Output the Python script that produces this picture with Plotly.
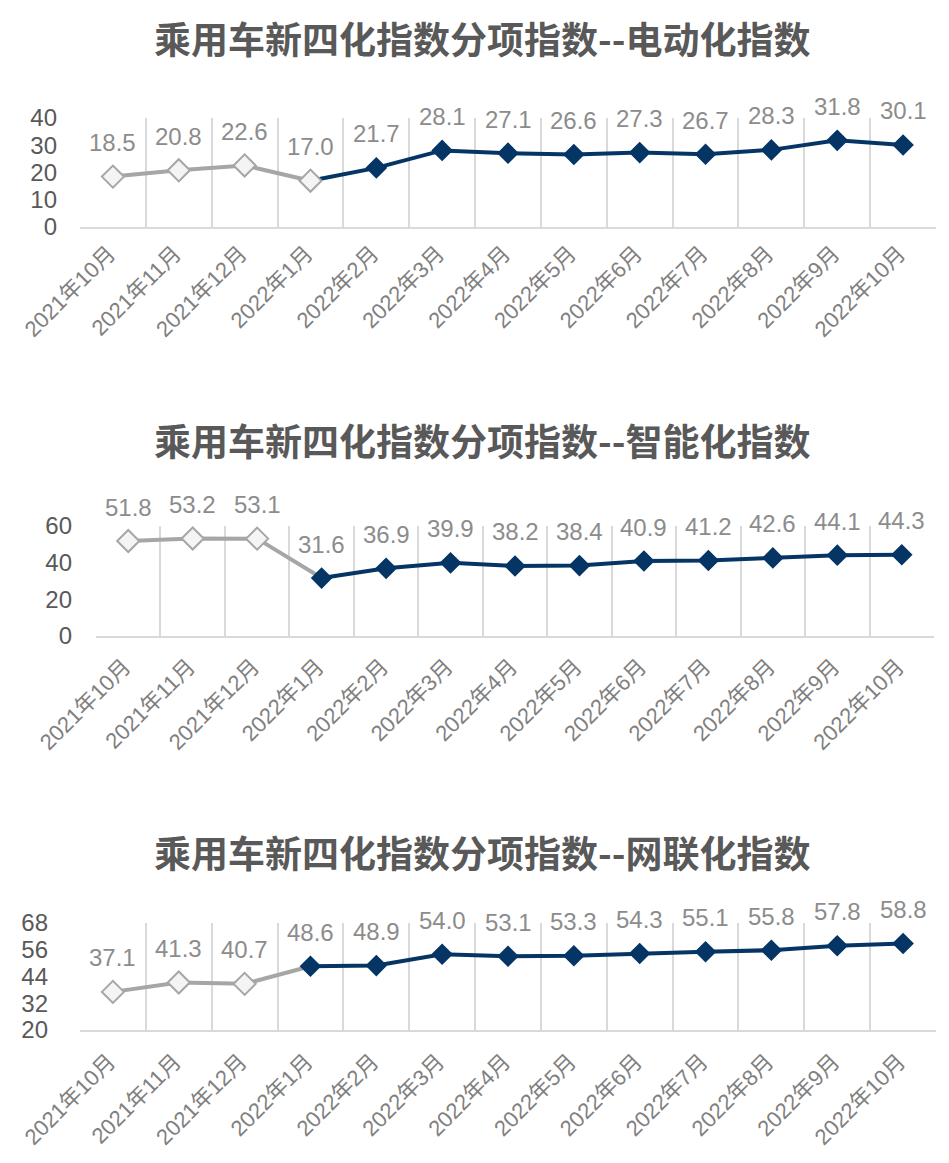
import plotly.graph_objects as go

categories = ["2021年10月", "2021年11月", "2021年12月", "2022年1月", "2022年2月", "2022年3月",
              "2022年4月", "2022年5月", "2022年6月", "2022年7月", "2022年8月", "2022年9月", "2022年10月"]
electric = [18.5, 20.8, 22.6, 17.0, 21.7, 28.1, 27.1, 26.6, 27.3, 26.7, 28.3, 31.8, 30.1]
smart = [51.8, 53.2, 53.1, 31.6, 36.9, 39.9, 38.2, 38.4, 40.9, 41.2, 42.6, 44.1, 44.3]
connected = [37.1, 41.3, 40.7, 48.6, 48.9, 54.0, 53.1, 53.3, 54.3, 55.1, 55.8, 57.8, 58.8]
titles = ["乘用车新四化指数分项指数--电动化指数",
          "乘用车新四化指数分项指数--智能化指数",
          "乘用车新四化指数分项指数--网联化指数"]
y_ticks = [[0, 10, 20, 30, 40], [0, 20, 40, 60], [20, 32, 44, 56, 68]]

# page has an 8px body margin: figure is smaller and offset
OX, OY = 8, 8
W, H = 949 - 2 * OX, 1163 - 2 * OY
GRAY = "#a6a6a6"
BLUE = "#053565"
SPLIT = 3  # index where the gray history joins the blue series


def fx(px):
    return (px - OX) / W


def fy(py):
    return 1 - (py - OY) / H


# panel geometry (screen pixels)
panels = [
    dict(x0=80, x1=936, yt=118, yb=227, ty=38, stand=22, xstand=3, gray_on_top=True),
    dict(x0=96, x1=934, yt=526, yb=636, ty=440, stand=23, xstand=7, gray_on_top=False),
    dict(x0=80, x1=936, yt=923, yb=1030, ty=852, stand=31, xstand=8, gray_on_top=False),
]
series = [electric, smart, connected]

LAT = "Arial, 'Liberation Sans', 'Noto Sans CJK SC', sans-serif"
fig = go.Figure()
annotations = []

for i, (vals, p) in enumerate(zip(series, panels)):
    xa = "x" if i == 0 else f"x{i+1}"
    ya = "y" if i == 0 else f"y{i+1}"
    n = len(categories)
    gray_y = [v if k <= SPLIT else None for k, v in enumerate(vals)]
    blue_y = [v if k >= SPLIT else None for k, v in enumerate(vals)]
    if p["gray_on_top"]:
        gray_sizes = [17] * n
        blue_sizes = [0 if k == SPLIT else 15 for k in range(n)]
    else:
        gray_sizes = [0 if k == SPLIT else 17 for k in range(n)]
        blue_sizes = [15] * n
    gray_tr = go.Scatter(x=categories, y=gray_y, mode="lines+markers", xaxis=xa, yaxis=ya,
                         line=dict(color=GRAY, width=4),
                         marker=dict(symbol="diamond", size=gray_sizes, color="#f4f4f4",
                                     opacity=1, line=dict(color=GRAY, width=2)),
                         showlegend=False, hoverinfo="skip")
    blue_tr = go.Scatter(x=categories, y=blue_y, mode="lines+markers", xaxis=xa, yaxis=ya,
                         line=dict(color=BLUE, width=4),
                         marker=dict(symbol="diamond", size=blue_sizes, color=BLUE,
                                     opacity=1, line=dict(color=BLUE, width=1.5)),
                         showlegend=False, hoverinfo="skip")
    if p["gray_on_top"]:
        fig.add_trace(blue_tr)
        fig.add_trace(gray_tr)
    else:
        fig.add_trace(gray_tr)
        fig.add_trace(blue_tr)

    for c, v in zip(categories, vals):
        annotations.append(dict(x=c, y=v, xref=xa, yref=ya, text=f"{v:.1f}", showarrow=False,
                                yshift=34, font=dict(family=LAT, size=24, color="#8c8c8c")))
    annotations.append(dict(x=fx(482), y=fy(p["ty"]), xref="paper", yref="paper",
                            text=f"<b>{titles[i]}</b>", showarrow=False, xanchor="center",
                            yanchor="middle",
                            font=dict(family="'Noto Sans CJK SC', sans-serif", size=37,
                                      color="#595959")))

    yt = y_ticks[i]
    xkey = "xaxis" if i == 0 else f"xaxis{i+1}"
    ykey = "yaxis" if i == 0 else f"yaxis{i+1}"
    fig.update_layout(**{
        xkey: dict(domain=[fx(p["x0"]), fx(p["x1"])], anchor=ya, type="category",
                   range=[-0.5, n - 0.5], tickson="boundaries", showgrid=True,
                   gridcolor="#d9d9d9", gridwidth=1.5, showline=True, linecolor="#d9d9d9",
                   linewidth=2, ticks="", tickangle=-45, ticklabelstandoff=p["xstand"],
                   ticklabelshift=-4,
                   tickfont=dict(family=LAT, size=22, color="#808080"), zeroline=False,
                   automargin=False),
        ykey: dict(domain=[fy(p["yb"]), fy(p["yt"])], anchor=xa,
                   range=[yt[0], yt[-1]], tickvals=yt, showgrid=False, zeroline=False,
                   showline=False, ticks="", ticklabelstandoff=p["stand"],
                   tickfont=dict(family=LAT, size=24, color="#595959"), automargin=False),
    })

fig.update_layout(width=W, height=H, margin=dict(l=0, r=0, t=0, b=0),
                  paper_bgcolor="white", plot_bgcolor="white",
                  annotations=annotations, showlegend=False)

fig.write_html("out.html")
